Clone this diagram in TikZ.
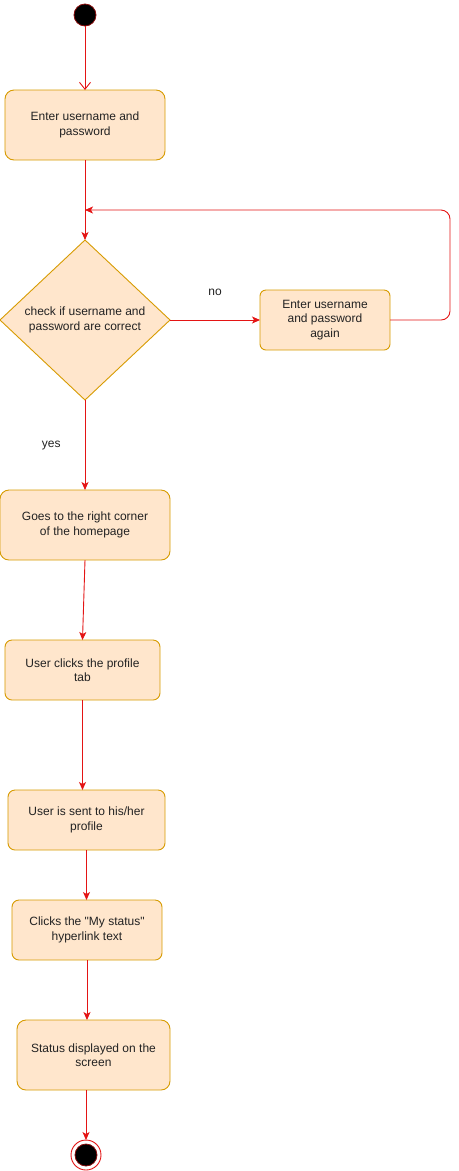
\documentclass[tikz,border=0pt]{standalone}
\usepackage{fontspec}
\setmainfont{Liberation Sans}
\usepackage{tikz}
\usetikzlibrary{
    shapes.geometric,
    arrows.meta,
    positioning
}
\definecolor{Ufill}{RGB}{255, 230, 204}
\definecolor{Uline}{RGB}{215, 155, 0}
\definecolor{Ured}{RGB}{228, 20, 20}
\definecolor{Utext}{RGB}{34, 34, 34}
\tikzset{
    ustate/.style={
        rectangle, rounded corners=9bp, draw=Uline, line width=0.9bp,
        fill=Ufill, text=Utext, align=center, inner sep=2bp, outer sep=0pt,
        font=\fontsize{12bp}{14.3bp}\selectfont
    },
    udecide/.style={
        diamond, draw=Uline, line width=0.9bp, fill=Ufill, text=Utext,
        align=center, inner sep=0pt, outer sep=0pt,
        minimum width=170bp, minimum height=160bp,
        font=\fontsize{12bp}{14.3bp}\selectfont
    },
    ustart/.style={circle, draw=Ured!60!black, fill=black, line width=0.8bp,
        minimum size=22bp, inner sep=0pt, outer sep=0pt},
    uend/.style={circle, draw=Ured, fill=white, line width=0.9bp,
        minimum size=30bp, inner sep=0pt, outer sep=0pt},
    ulabel/.style={text=Utext, font=\fontsize{12bp}{14.3bp}\selectfont, inner sep=0pt},
    uarr/.style={-{Stealth[length=8bp, width=7bp, inset=2bp]}, line width=0.9bp, Ured},
    uopen/.style={-{Straight Barb[length=7bp, width=11bp]}, line width=0.9bp, Ured},
}

\begin{document}
\begin{tikzpicture}[x=1bp, y=-1bp]

    \useasboundingbox (0,0) rectangle (459,1171);

    \node [ustart] (s0) at (85,15) {};
    \node [ustate, minimum width=160bp, minimum height=70bp, below=64bp of s0]
        (n1) {Enter username and \\ password};
    \node [udecide, below=80bp of n1]
        (d1) {check if username and \\ password are correct};
    \node [ustate, rounded corners=6bp, minimum width=130bp, minimum height=60bp, right=90bp of d1]
        (n2) {Enter username \\ and password \\ again};
    \node [ustate, minimum width=170bp, minimum height=70bp, below=90bp of d1]
        (n3) {Goes to the right corner \\ of the homepage};
    \node [ustate, rounded corners=7bp, minimum width=155bp, minimum height=60bp, below=80bp of n3, xshift=-2.5bp]
        (n4) {User clicks the profile \\ tab};
    \node [ustate, rounded corners=7bp, minimum width=157bp, minimum height=60bp, below=90bp of n4, xshift=4bp]
        (n5) {User is sent to his/her \\ profile};
    \node [ustate, rounded corners=7bp, minimum width=150bp, minimum height=60bp, below=50bp of n5, xshift=0.5bp]
        (n6) {Clicks the \textquotedbl My status\textquotedbl \\ hyperlink text};
    \node [ustate, minimum width=153bp, minimum height=70bp, below=60bp of n6, xshift=6.5bp]
        (n7) {Status displayed on the \\ screen};
    \node [uend, below=50bp of n7, xshift=-7.5bp] (e0) {};
    \node [ustart, minimum size=22bp] (e1) at (e0) {};

    \draw [uopen] (s0) -- (n1);
    \draw [uarr] (n1) -- (d1);
    \draw [uarr] (d1) -- node [ulabel, above=24bp] (lno) {no} (n2);
    \draw [uarr, rounded corners=9bp] (n2.east) -- ++(60,0) |- ([yshift=30bp]d1.north);
    \draw [uarr] (d1) -- node [ulabel, left=24bp] (lyes) {yes} (n3);
    \draw [uarr] (n3.south) -- (n4.north);
    \draw [uarr] (n4.south) -- (n4.south |- n5.north);
    \draw [uarr] (n5.south) -- (n5.south |- n6.north);
    \draw [uarr] (n6.south) -- (n6.south |- n7.north);
    \draw [uarr] (e0 |- n7.south) -- (e0);

\end{tikzpicture}
\end{document}
